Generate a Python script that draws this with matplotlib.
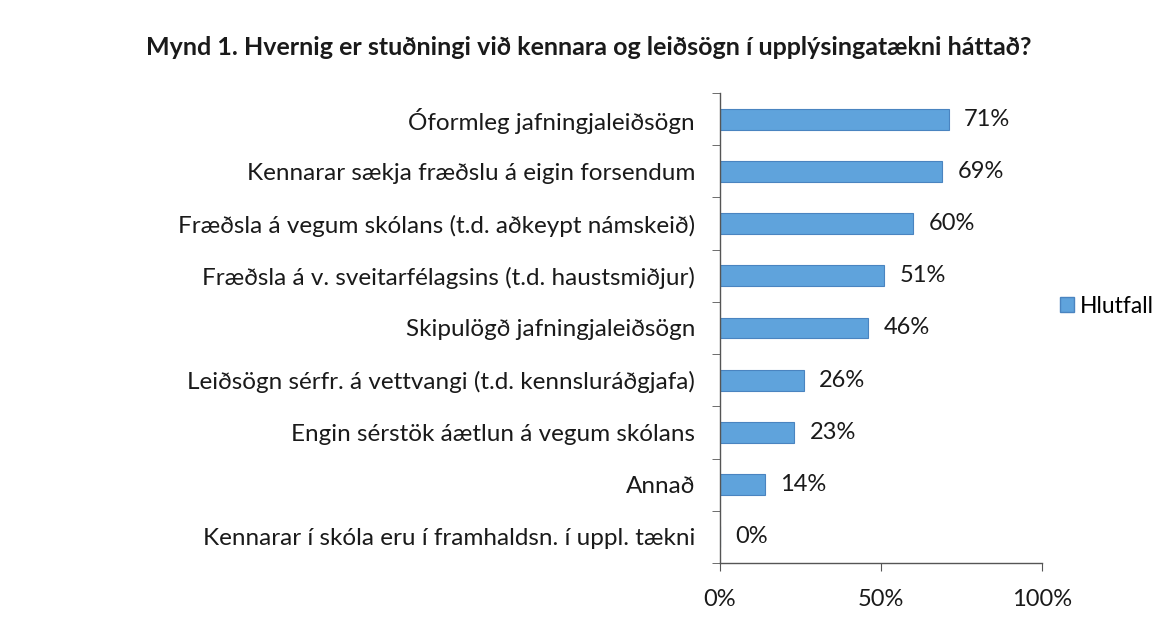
import numpy as np
import matplotlib.pyplot as plt
from matplotlib.patches import Patch

# Data (top to bottom as shown in the chart)
categories = [
    "Óformleg jafningjaleiðsögn",
    "Kennarar sækja fræðslu á eigin forsendum",
    "Fræðsla á vegum skólans (t.d. aðkeypt námskeið)",
    "Fræðsla á v. sveitarfélagsins (t.d. haustsmiðjur)",
    "Skipulögð jafningjaleiðsögn",
    "Leiðsögn sérfr. á vettvangi (t.d. kennsluráðgjafa)",
    "Engin sérstök áætlun á vegum skólans",
    "Annað",
    "Kennarar í skóla eru í framhaldsn. í uppl. tækni",
]
values = [71, 69, 60, 51, 46, 26, 23, 14, 0]
x_ticks = [0, 50, 100]
x_labels = ["0%", "50%", "100%"]

plt.rcParams['font.family'] = ['Lato', 'DejaVu Sans']

fig = plt.figure(figsize=(11.59, 6.31), dpi=100)
ax = fig.add_axes([0.6212, 0.1078, 0.2778, 0.7448])

y = np.arange(len(categories))
bar_color = '#5FA3DC'
ax.barh(y, values, height=0.4, color=bar_color, edgecolor='#4A84C0', linewidth=0.8)

for yi, v in zip(y, values):
    ax.text(v + 4.8, yi, f"{v}%", va='center', ha='left', fontsize=17, color='#1a1a1a')

ax.set_ylim(len(categories) - 0.5, -0.5)
ax.set_xlim(0, 100)
ax.set_yticks(y)
ax.set_yticklabels(categories, fontsize=17.5, color='#1a1a1a')
ax.tick_params(axis='y', which='major', length=0, pad=18)
ax.set_yticks(np.arange(-0.5, len(categories), 1), minor=True)
ax.tick_params(axis='y', which='minor', length=6, color='#555555')

ax.set_xticks(x_ticks)
ax.set_xticklabels(x_labels, fontsize=17, color='#1a1a1a')
ax.tick_params(axis='x', length=6, color='#555555', pad=13)

for s in ['top', 'right']:
    ax.spines[s].set_visible(False)
for s in ['left', 'bottom']:
    ax.spines[s].set_color('#555555')
    ax.spines[s].set_linewidth(1.0)

fig.text(0.508, 0.925, "Mynd 1. Hvernig er stuðningi við kennara og leiðsögn í upplýsingatækni háttað?",
         ha='center', va='center', fontsize=18, fontweight='bold', color='#1a1a1a')

handle = Patch(facecolor=bar_color, edgecolor='#4A84C0')
fig.legend([handle], ["Hlutfall"], loc='center left', bbox_to_anchor=(0.9146, 0.515),
           frameon=False, fontsize=16.5, handlelength=0.6, handleheight=0.6,
           handletextpad=0.25, borderpad=0, borderaxespad=0)

fig.savefig("out.png", dpi=100)
